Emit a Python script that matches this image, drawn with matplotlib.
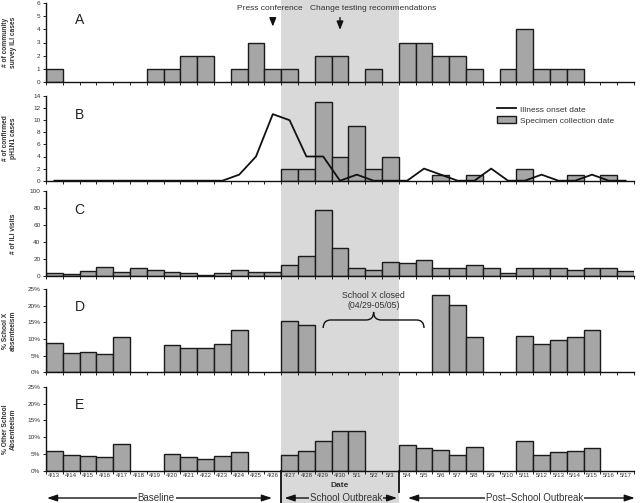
import matplotlib.pyplot as plt
import numpy as np
from matplotlib.patches import Rectangle, PathPatch, Patch
from matplotlib.path import Path
from matplotlib.lines import Line2D
from matplotlib.ticker import FuncFormatter

plt.rcParams['font.family'] = ['Liberation Sans', 'DejaVu Sans']

dates = ['4/13', '4/14', '4/15', '4/16', '4/17', '4/18', '4/19', '4/20', '4/21',
         '4/22', '4/23', '4/24', '4/25', '4/26', '4/27', '4/28', '4/29', '4/30',
         '5/1', '5/2', '5/3', '5/4', '5/5', '5/6', '5/7', '5/8', '5/9', '5/10',
         '5/11', '5/12', '5/13', '5/14', '5/15', '5/16', '5/17']

community_ili = [1, 0, 0, 0, 0, 0, 1, 1, 2, 2, 0, 1, 3, 1, 1, 0, 2, 2, 0, 1, 0,
                 3, 3, 2, 2, 1, 0, 1, 4, 1, 1, 1, 0, 0, 0]
onset_cases = [0, 0, 0, 0, 0, 0, 0, 0, 0, 0, 0, 1, 4, 11, 10, 4, 4, 0, 1, 0, 0,
               0, 2, 1, 0, 0, 2, 0, 0, 1, 0, 0, 1, 0, 0]
specimen_cases = [0, 0, 0, 0, 0, 0, 0, 0, 0, 0, 0, 0, 0, 0, 2, 2, 13, 4, 9, 2, 4,
                  0, 0, 1, 0, 1, 0, 0, 2, 0, 0, 1, 0, 1, 0]
ili_visits = [3, 2, 6, 11, 5, 9, 7, 5, 3, 1, 4, 7, 5, 5, 13, 24, 78, 33, 10, 7, 16,
              15, 19, 10, 10, 13, 10, 3, 10, 10, 10, 7, 10, 10, 6]
nan = np.nan
school_x_absent = [8.7, 5.8, 6.2, 5.6, 10.7, nan, nan, 8.2, 7.2, 7.3, 8.6, 12.8, nan,
                   nan, 15.5, 14.2, nan, nan, nan, nan, nan, nan, nan, 23.3, 20.2,
                   10.5, nan, nan, 10.9, 8.4, 9.7, 10.5, 12.7, nan, nan]
other_absent = [6.0, 4.7, 4.4, 4.0, 8.0, nan, nan, 5.0, 4.0, 3.5, 4.3, 5.5, nan, nan,
                4.8, 5.8, 9.0, 11.9, 11.9, nan, nan, 7.6, 6.9, 6.1, 4.8, 7.2, nan,
                nan, 8.8, 4.8, 5.5, 5.8, 6.7, nan, nan]

outbreak_days = ('4/27', '5/3')
closure_days = ('4/29', '5/5')

BAR = '#a6a6a6'
EDGE = '#1a1a1a'
SHADE = '#d9d9d9'
TXT = '#333333'

fig = plt.figure(figsize=(6.4, 5.03), dpi=100)
W, H = 640, 503
left_px, right_px = 46, 634

# (top pixel, bottom pixel) of each panel
panel_px = [(3, 82), (96, 180.7), (191, 276), (289, 372.3), (387, 470.7)]
axes = []
for top, bot in panel_px:
    ax = fig.add_axes([left_px / W, 1 - bot / H, (right_px - left_px) / W, (bot - top) / H])
    ax.patch.set_visible(False)
    axes.append(ax)

x = np.arange(len(dates))
i0 = dates.index(outbreak_days[0])
i1 = dates.index(outbreak_days[1])
px_per_day = (right_px - left_px) / len(dates)
shade_x0 = left_px + i0 * px_per_day
shade_x1 = left_px + (i1 + 1) * px_per_day
fig.patches.append(Rectangle((shade_x0 / W, 0), (shade_x1 - shade_x0) / W, 1,
                             transform=fig.transFigure, facecolor=SHADE,
                             edgecolor='none', zorder=-5))


def draw_bars(ax, vals):
    v = np.array(vals, dtype=float)
    m = np.isfinite(v) & (v > 0)
    ax.bar(x[m], v[m], width=1.0, color=BAR, edgecolor=EDGE, linewidth=1.0, zorder=2)


def style(ax, ymax, step, label, letter, pct=False, last=False):
    ax.set_xlim(-0.5, len(dates) - 0.5)
    ax.set_ylim(0, ymax)
    ax.set_yticks(np.arange(0, ymax + 0.01, step))
    if pct:
        ax.yaxis.set_major_formatter(FuncFormatter(lambda v, p: '%d%%' % v))
    for s in ['top', 'right']:
        ax.spines[s].set_visible(False)
    for s in ['left', 'bottom']:
        ax.spines[s].set_linewidth(1.0)
        ax.spines[s].set_color('#111111')
    ax.set_xticks(np.arange(-0.5, len(dates)), [''] * (len(dates) + 1))
    ax.tick_params(axis='x', which='major', length=2.5, width=0.6, direction='out')
    ax.tick_params(axis='y', length=2.5, width=0.6, labelsize=4.6, labelcolor=TXT, pad=1.5)
    if last:
        ax.set_xticks(x, dates, minor=True)
        ax.tick_params(axis='x', which='minor', length=0, labelsize=4.4,
                       labelcolor=TXT, pad=1.5)
    ax.set_ylabel(label, fontsize=4.8, fontweight='bold', color=TXT, linespacing=1.1)
    ax.yaxis.set_label_coords((17 - left_px) / (right_px - left_px), 0.5)
    ax.text(1.2, ymax * 0.78, letter, fontsize=10, color='#222222', va='center')


# A
axA = axes[0]
draw_bars(axA, community_ili)
style(axA, 6, 1, '# of community\nsurvey ILI cases', 'A')
press = dates.index('4/26')
change = dates.index('4/30')
arrowprops = dict(arrowstyle='-|>,head_length=0.5,head_width=0.2', color='#111111', lw=1.0)
axA.annotate('', xy=(press, 4.0), xytext=(press, 5.1), arrowprops=arrowprops,
             annotation_clip=False)
axA.annotate('', xy=(change, 3.75), xytext=(change, 5.1), arrowprops=arrowprops,
             annotation_clip=False)
axA.text(press - 0.2, 5.6, 'Press conference', fontsize=6, color=TXT, ha='center',
         va='center')
axA.text(change + 2.0, 5.6, 'Change testing recommendations', fontsize=6, color=TXT,
         ha='center', va='center')

# B
axB = axes[1]
draw_bars(axB, specimen_cases)
axB.plot(x, onset_cases, color='#111111', lw=1.3, zorder=3)
style(axB, 14, 2, '# of confirmed\npH1N1 cases', 'B')
handles = [Line2D([], [], color='#111111', lw=1.3),
           Patch(facecolor=BAR, edgecolor=EDGE, linewidth=1.0)]
axB.legend(handles, ['Illness onset date', 'Specimen collection date'],
           loc='upper left', bbox_to_anchor=(0.755, 0.98), frameon=False,
           fontsize=6, handlelength=2.2, handleheight=0.9, labelspacing=0.35,
           handletextpad=0.5, labelcolor=TXT)

# C
axC = axes[2]
draw_bars(axC, ili_visits)
style(axC, 100, 20, '# of ILI visits', 'C')

# D
axD = axes[3]
draw_bars(axD, school_x_absent)
style(axD, 25, 5, '% School X\nabsenteeism', 'D', pct=True)
c0 = dates.index(closure_days[0])
c1 = dates.index(closure_days[1])
xm = (c0 + c1) / 2
yb, yh, yp, r = 13.3, 15.7, 18.1, 0.45
verts = [(c0, yb), (c0, yh), (c0 + r, yh), (xm - r, yh), (xm, yh), (xm, yp),
         (xm, yh), (xm + r, yh), (c1 - r, yh), (c1, yh), (c1, yb)]
codes = [Path.MOVETO, Path.CURVE3, Path.CURVE3, Path.LINETO, Path.CURVE3, Path.CURVE3,
         Path.CURVE3, Path.CURVE3, Path.LINETO, Path.CURVE3, Path.CURVE3]
axD.add_patch(PathPatch(Path(verts, codes), facecolor='none', edgecolor='#111111',
                        lw=1.0, zorder=4))
axD.text(xm, 21.5, 'School X closed\n(04/29-05/05)', fontsize=6.3, color=TXT,
         ha='center', va='center', linespacing=1.15)

# E
axE = axes[4]
draw_bars(axE, other_absent)
style(axE, 25, 5, '% Other School\nAbsenteeism', 'E', pct=True, last=True)
axE.set_xlabel('Date', fontsize=6, fontweight='bold', color=TXT, labelpad=2)

# period separators and arrows below the x axis
trans = axE.get_xaxis_transform()
bottom_y = (470.7 - 503) / (470.7 - 387)
axE.plot([i0 - 0.5, i0 - 0.5], [0, bottom_y], color='#111111', lw=1.3,
         transform=trans, clip_on=False)
axE.plot([i1 + 0.5, i1 + 0.5], [0, (470.7 - 492) / (470.7 - 387)], color='#111111',
         lw=1.3, transform=trans, clip_on=False)
arr_y = (470.7 - 498) / (470.7 - 387)
# name, arrow start, arrow end, text centre offset, text background
periods = [('Baseline', -0.44, 12.95, -0.2, 'white'),
           ('School Outbreak', i0 - 0.3, i1 + 0.4, 0.3, SHADE),
           ('Post\u2013School Outbreak', i1 + 1.05, len(dates) - 0.45, 0.8, 'white')]
for name, xa, xb, off, bg in periods:
    axE.annotate('', xy=(xb, arr_y), xytext=(xa, arr_y), xycoords=trans,
                 textcoords=trans,
                 arrowprops=dict(arrowstyle='<|-|>,head_length=0.6,head_width=0.2',
                                 color='#111111', lw=1.0, shrinkA=0, shrinkB=0),
                 annotation_clip=False)
    axE.text((xa + xb) / 2 + off, arr_y, name, transform=trans, fontsize=7, color=TXT,
             ha='center', va='center', clip_on=False,
             bbox=dict(facecolor=bg, edgecolor='none', pad=0.6))

fig.savefig('out.png', dpi=100)
